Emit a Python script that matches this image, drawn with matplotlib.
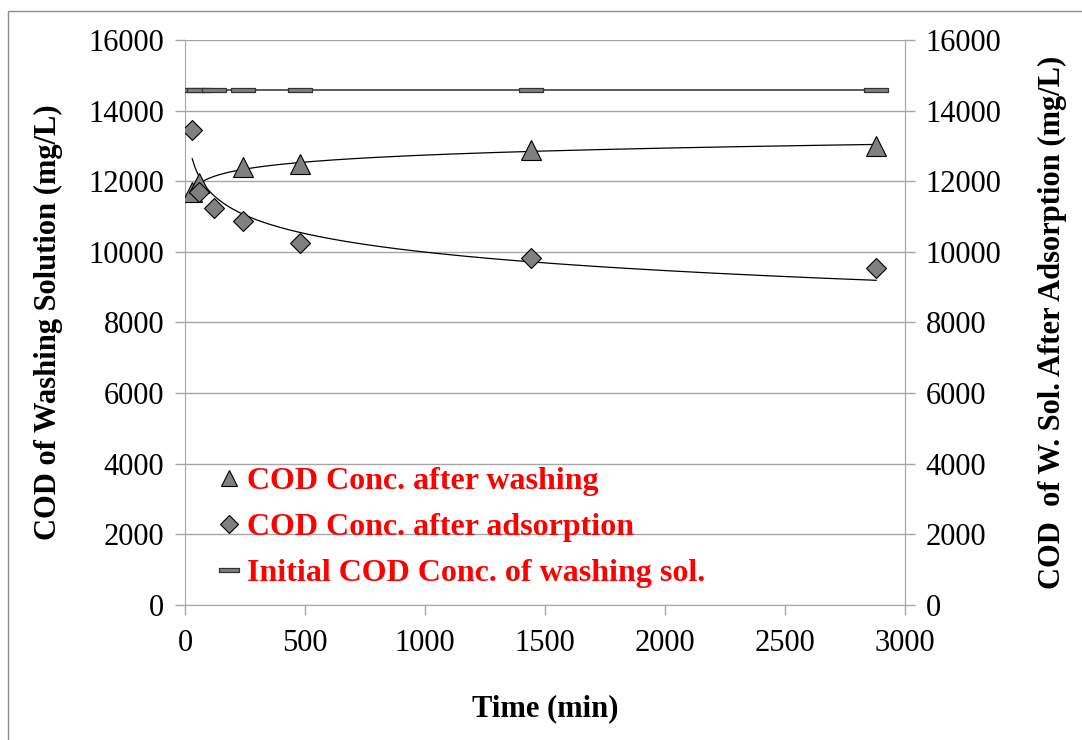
import matplotlib
matplotlib.use("Agg")
import matplotlib.pyplot as plt
import numpy as np
from matplotlib.lines import Line2D
from matplotlib.path import Path
from matplotlib.patches import Rectangle

plt.rcParams['font.family'] = ['Liberation Serif', 'DejaVu Serif']

# sampling times (min) and COD values (mg/L)
t_wash = [30, 60, 240, 480, 1440, 2880]
cod_wash = [11700, 11950, 12400, 12500, 12880, 13000]

t_ads = [30, 60, 120, 240, 480, 1440, 2880]
cod_ads = [13450, 11700, 11250, 10870, 10250, 9820, 9550]

t_init = [30, 60, 120, 240, 480, 1440, 2880]
cod_init = [14580, 14580, 14580, 14580, 14580, 14580, 14580]

x_ticks = [0, 500, 1000, 1500, 2000, 2500, 3000]
y_ticks = [0, 2000, 4000, 6000, 8000, 10000, 12000, 14000, 16000]

labels = ['COD Conc. after washing',
          'COD Conc. after adsorption',
          'Initial COD Conc. of washing sol.']

grid_c = '#a6a6a6'
fill_c = '#808080'

# flat bar marker for the initial concentration series
bar_marker = Path([(-1, -0.2), (1, -0.2), (1, 0.2), (-1, 0.2), (-1, -0.2)],
                  [Path.MOVETO, Path.LINETO, Path.LINETO, Path.LINETO, Path.CLOSEPOLY])

fig = plt.figure(figsize=(10.82, 7.40), dpi=100)
fig.subplots_adjust(left=185 / 1082, right=905 / 1082, top=1 - 40 / 740, bottom=1 - 605 / 740)
ax = fig.add_subplot(111)

# chart area border (only left and top edges are visible)
fig.patches.append(Rectangle((8 / 1082, -0.1), 1.2, 1 - 11 / 740 + 0.1, transform=fig.transFigure,
                             fill=False, edgecolor='#8c8c8c', linewidth=1.0))

ax.plot(t_init, cod_init, color='#404040', linewidth=1.2, marker=bar_marker,
        markersize=17, markerfacecolor=fill_c, markeredgecolor='#333333', markeredgewidth=0.9, zorder=3)
ax.plot(t_wash, cod_wash, linestyle='none', marker='^', markersize=14,
        markerfacecolor=fill_c, markeredgecolor='black', markeredgewidth=0.8, zorder=4)
ax.plot(t_ads, cod_ads, linestyle='none', marker='D', markersize=10,
        markerfacecolor=fill_c, markeredgecolor='black', markeredgewidth=0.8, zorder=4)

# logarithmic trend lines
for tx, ty in [(t_wash, cod_wash), (t_ads, cod_ads)]:
    a, b = np.polyfit(np.log(tx), ty, 1)
    xx = np.linspace(min(tx), max(tx), 300)
    ax.plot(xx, a * np.log(xx) + b, color='black', linewidth=0.9, zorder=3)

ax.set_xlim(0, 3000)
ax.set_ylim(0, 16000)
ax.set_xticks(x_ticks)
ax.set_yticks(y_ticks)
ax.yaxis.grid(True, color=grid_c, linewidth=1.0)
ax.set_axisbelow(True)
for s in ['left', 'bottom', 'right', 'top']:
    ax.spines[s].set_color(grid_c)
ax.spines['top'].set_visible(False)
ax.tick_params(axis='both', direction='out', length=7, width=1, color=grid_c,
               labelsize=22, pad=8)
ax.tick_params(axis='x', pad=10)

ax2 = ax.twinx()
ax2.set_ylim(0, 16000)
ax2.set_yticks(y_ticks)
ax2.spines['right'].set_color(grid_c)
for s in ['left', 'bottom', 'top']:
    ax2.spines[s].set_visible(False)
ax2.tick_params(axis='y', direction='out', length=7, width=1, color=grid_c,
                labelsize=22, pad=8)

ax.set_xlabel('Time (min)', fontsize=22, fontweight='bold', labelpad=26)
ax.set_ylabel('COD of Washing Solution (mg/L)', fontsize=22, fontweight='bold', labelpad=18)
ax2.set_ylabel('COD  of W. Sol. After Adsorption (mg/L)', fontsize=22, fontweight='bold', labelpad=26)

handles = [
    Line2D([], [], linestyle='none', marker='^', markersize=11, markerfacecolor=fill_c,
           markeredgecolor='black', markeredgewidth=0.8),
    Line2D([], [], linestyle='none', marker='D', markersize=9, markerfacecolor=fill_c,
           markeredgecolor='black', markeredgewidth=0.8),
    Line2D([], [], linestyle='none', marker=bar_marker, markersize=14, markerfacecolor=fill_c,
           markeredgecolor='#333333', markeredgewidth=0.9),
]
leg = ax.legend(handles, labels, loc='upper left', bbox_to_anchor=(202 / 1082, 1 - 451 / 740),
                bbox_transform=fig.transFigure, frameon=False, handlelength=0.7,
                handletextpad=0.2, labelspacing=0.52, borderpad=0,
                prop={'family': 'Liberation Serif', 'weight': 'bold', 'size': 23})
for txt in leg.get_texts():
    txt.set_color('red')

fig.savefig('out.png', dpi=100)
